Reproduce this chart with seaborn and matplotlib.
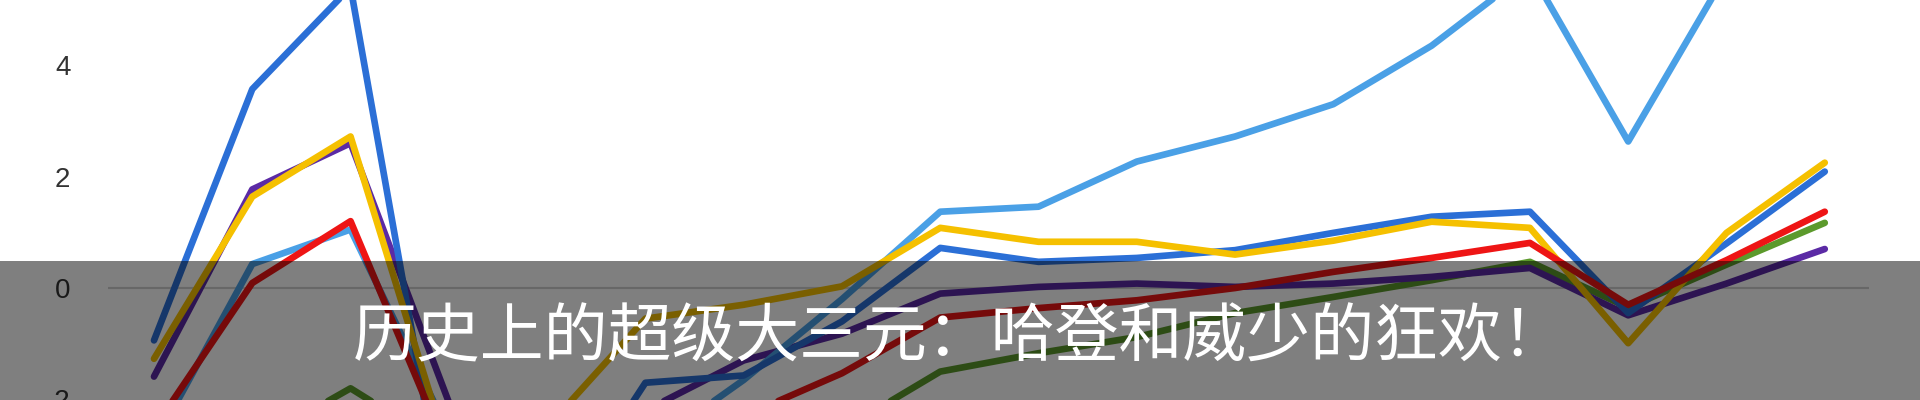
import pandas as pd
import matplotlib.pyplot as plt
import seaborn as sns
from matplotlib.patches import Rectangle

# 数据
games = list(range(1, 19))
blue = [-0.94, 3.57, 5.40, -4.5, -4.4, -1.70, -1.57, -0.60, 0.72, 0.47, 0.54, 0.68, 0.99, 1.28, 1.37, -0.45, 0.80, 2.09]
light_blue = [-2.80, 0.43, 1.05, -2.6, -3.0, -2.90, -1.65, -0.20, 1.37, 1.46, 2.27, 2.72, 3.30, 4.35, 5.70, 2.63, 5.65, 6.00]
yellow = [-1.27, 1.64, 2.72, -3.0, -2.5, -0.55, -0.30, 0.03, 1.08, 0.83, 0.83, 0.60, 0.85, 1.19, 1.08, -0.99, 0.99, 2.25]
purple = [-1.59, 1.77, 2.60, -2.05, -2.6, -2.20, -1.30, -0.82, -0.10, 0.02, 0.08, 0.02, 0.08, 0.20, 0.36, -0.49, 0.08, 0.70]
red = [-2.52, 0.09, 1.20, -3.0, -3.3, -2.90, -2.30, -1.53, -0.53, -0.36, -0.22, 0.00, 0.29, 0.54, 0.81, -0.30, 0.50, 1.37]
green = [-3.5, -2.8, -1.80, -2.9, -3.2, -3.0, -2.8, -2.55, -1.50, -1.17, -0.88, -0.45, -0.16, 0.14, 0.47, -0.35, 0.42, 1.17]

series = {"green": green, "purple": purple, "light_blue": light_blue,
          "blue": blue, "yellow": yellow, "red": red}
colors = {"green": "#5c9a2c", "purple": "#5b2aa5", "light_blue": "#4aa0e6",
          "blue": "#2b6fd6", "yellow": "#f5c000", "red": "#ee1515"}

title = "历史上的超级大三元：哈登和威少的狂欢！"

df = pd.concat([pd.DataFrame({"game": games, "value": v, "line": k})
                for k, v in series.items()])

sns.set_style("white")
plt.rcParams['font.family'] = ['Noto Sans CJK SC', 'DejaVu Sans']
plt.rcParams['axes.unicode_minus'] = False

fig = plt.figure(figsize=(19.2, 4), dpi=100)
ax = fig.add_axes([108 / 1920, 0, 1761 / 1920, 1])

ax.axhline(0, color="#d0d0d0", lw=1.5, zorder=1)
sns.lineplot(data=df, x="game", y="value", hue="line", hue_order=list(series),
             palette=colors, linewidth=4.8, legend=False, ax=ax, zorder=2)
for ln in ax.lines[1:]:
    ln.set_solid_joinstyle("round")
    ln.set_solid_capstyle("round")

ax.set_xlim(0.532, 18.45)
ax.set_ylim(-2.01, 5.17)
ax.set_yticks([-2, 0, 2, 4])
ax.set_yticklabels(["-2", "0", "2", "4"], fontsize=20, color="#333333",
                   family=["Liberation Sans", "DejaVu Sans"])
ax.set_xticks([])
ax.tick_params(axis="y", length=0, pad=27)
ax.set_xlabel("")
ax.set_ylabel("")
sns.despine(ax=ax, left=True, bottom=True)

# 半透明灰色字幕条
fig.add_artist(Rectangle((0, 0), 1, 139 / 400, transform=fig.transFigure,
                         facecolor="black", alpha=0.5, edgecolor="none", zorder=10))
fig.text(0.5, 1 - 338 / 400, title, color="white", fontsize=46,
         fontweight="light", ha="center", va="center", zorder=11)

fig.savefig("out.png", dpi=100)
